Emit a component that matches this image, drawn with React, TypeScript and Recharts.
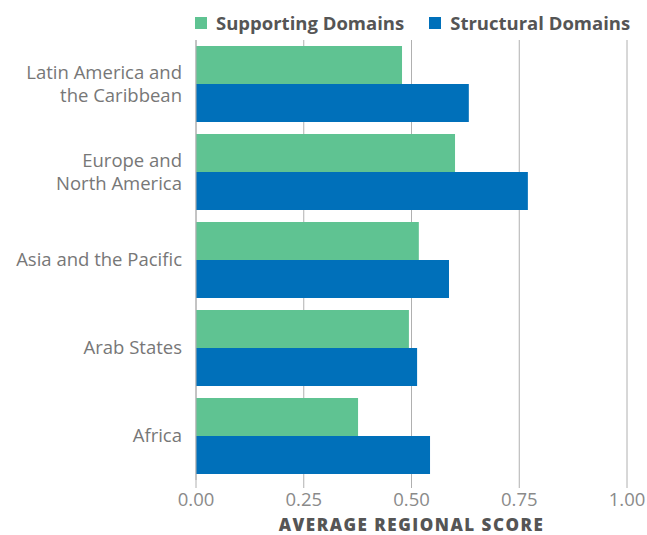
import { BarChart, Bar, XAxis, YAxis, CartesianGrid, Label } from "recharts";

const regions = [
  "Latin America and the Caribbean",
  "Europe and North America",
  "Asia and the Pacific",
  "Arab States",
  "Africa",
];
const supportingScores = [0.478, 0.601, 0.517, 0.494, 0.376];
const structuralScores = [0.633, 0.77, 0.587, 0.513, 0.543];
const xTicks = [0, 0.25, 0.5, 0.75, 1];

// wrapped tick labels, as in the source
const tickLines: Record<string, string[]> = {
  "Latin America and the Caribbean": ["Latin America and", "the Caribbean"],
  "Europe and North America": ["Europe and", "North America"],
};

const data = regions.map((region, i) => ({
  region,
  supporting: supportingScores[i],
  structural: structuralScores[i],
}));

const GREEN = "#5fc392";
const BLUE = "#0070ba";
const FONT = "'Open Sans', 'Noto Sans', sans-serif";

function RegionTick(props: any) {
  const { x, y, payload } = props;
  const lines = tickLines[payload.value] || [payload.value];
  const lh = 23;
  const startY = y - ((lines.length - 1) * lh) / 2;
  return (
    <text x={x - 6} y={startY} textAnchor="end" fill="#777" fontSize={18.5} fontFamily={FONT}>
      {lines.map((l: string, i: number) => (
        <tspan key={l} x={x - 6} y={startY + i * lh} dy="0.35em">
          {l}
        </tspan>
      ))}
    </text>
  );
}

function LegendItem({ color, label }: { color: string; label: string }) {
  return (
    <div style={{ display: "flex", alignItems: "center", marginRight: 25, whiteSpace: "nowrap" }}>
      <div style={{ width: 12, height: 12, background: color, marginRight: 9, flexShrink: 0 }} />
      <span style={{ fontWeight: 700, fontSize: 18.5, color: "#555", fontFamily: FONT }}>{label}</span>
    </div>
  );
}

export default function App() {
  return (
    <div style={{ position: "absolute", left: 0, top: 0, width: 647, height: 535 }}>
      <div style={{ position: "absolute", left: 195, top: 10, width: 452, display: "flex" }}>
        <LegendItem color={GREEN} label="Supporting Domains" />
        <LegendItem color={BLUE} label="Structural Domains" />
      </div>
      <BarChart
        width={647}
        height={535}
        data={data}
        layout="vertical"
        margin={{ top: 40, right: 20, bottom: 0, left: 0 }}
        barCategoryGap={6}
        barGap={0}
      >
        <CartesianGrid horizontal={false} stroke="#b0b0b0" />
        <XAxis
          type="number"
          domain={[0, 1]}
          ticks={xTicks}
          tickFormatter={(v: number) => v.toFixed(2)}
          axisLine={false}
          tickLine={{ stroke: "#b0b0b0" }}
          tickSize={8}
          height={55}
          tick={{ fill: "#8a8a8a", fontSize: 18.5, fontFamily: FONT, dy: 3 }}
        >
          <Label
            value="AVERAGE REGIONAL SCORE"
            position="insideBottom"
            offset={4}
            fill="#555"
            fontSize={17}
            fontWeight={800}
            letterSpacing={1.5}
            fontFamily={FONT}
          />
        </XAxis>
        <YAxis
          type="category"
          dataKey="region"
          width={196}
          axisLine={{ stroke: "#b0b0b0" }}
          tickLine={false}
          tick={<RegionTick />}
        />
        <Bar dataKey="supporting" fill={GREEN} isAnimationActive={false} />
        <Bar dataKey="structural" fill={BLUE} isAnimationActive={false} />
      </BarChart>
    </div>
  );
}
